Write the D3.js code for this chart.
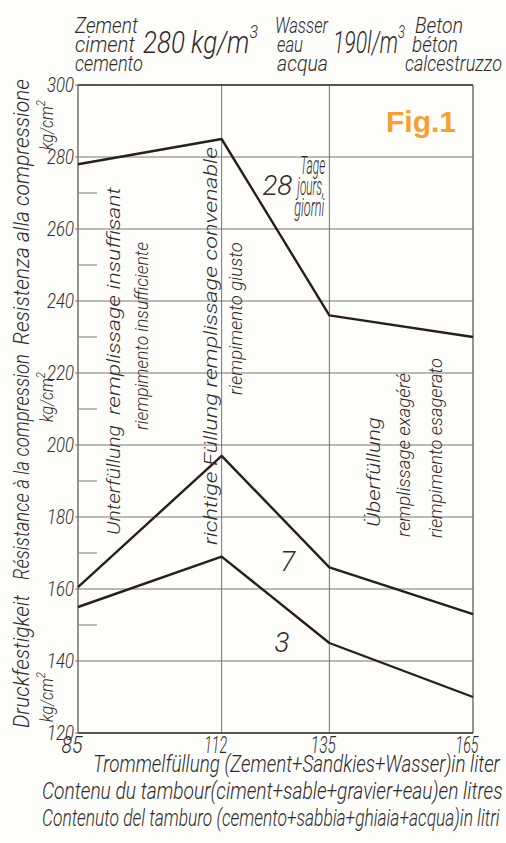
<!DOCTYPE html>
<html>
<head>
<meta charset="utf-8">
<script src="https://cdn.jsdelivr.net/npm/d3@7"></script>
<style>
  body { margin: 0; background: #fdfdfa; }
  svg text { font-family: Roboto, "DejaVu Sans", sans-serif; font-weight: 300; font-style: italic; fill: #2e2a28; }
</style>
</head>
<body>
<svg id="chart"></svg>
<script>
// drum filling in litres
const fills = [85, 112, 135, 165];
const day28 = [278, 285, 236, 230];
const day7 = [160.5, 197, 166, 153];
const day3 = [155, 169, 145, 130];
const yTicks = [120, 140, 160, 180, 200, 220, 240, 260, 280, 300];
const yMinor = [150, 170, 190, 210, 230, 250, 270];

const width = 506, height = 843;
const m = {top: 85, right: 33, bottom: 110, left: 78};
const w = width - m.left - m.right;
const h = height - m.top - m.bottom;

const svg = d3.select('#chart').attr('width', width).attr('height', height);

// squeeze a text to a given length (the lettering is very narrow)
function label(parent, x, y, txt, size, len, rot) {
    const t = parent.append('text').attr('font-size', size).text(txt);
    const nat = t.node().getComputedTextLength();
    const k = len ? len / nat : 1;
    t.attr('transform', `translate(${x},${y})${rot ? ' rotate(-90)' : ''} scale(${k},1)`);
    return t;
}

// the ticks are not evenly spaced in the original, so piecewise scale
const x = d3.scaleLinear()
    .domain(fills)
    .range([0, w * 144 / 396, w * 252 / 396, w]);
const y = d3.scaleLinear().domain([120, 300]).range([h, 0]);

const g = svg.append('g').attr('transform', `translate(${m.left},${m.top})`);

// grid
g.selectAll('.hgrid')
    .data(yTicks)
    .enter()
    .append('line')
    .attr('x1', -3).attr('x2', w)
    .attr('y1', d => y(d)).attr('y2', d => y(d))
    .attr('stroke', '#6a6662').attr('stroke-width', 0.9);

g.selectAll('.minor')
    .data(yMinor)
    .enter()
    .append('line')
    .attr('x1', 0).attr('x2', 19)
    .attr('y1', d => y(d)).attr('y2', d => y(d))
    .attr('stroke', '#6a6662').attr('stroke-width', 0.9);

g.selectAll('.vgrid')
    .data(fills)
    .enter()
    .append('line')
    .attr('x1', d => x(d)).attr('x2', d => x(d))
    .attr('y1', 0).attr('y2', h)
    .attr('stroke', '#6a6662')
    .attr('stroke-width', (d, i) => (i == 0 || i == 3) ? 1.4 : 0.9);

g.append('line').attr('x1', 0).attr('x2', w).attr('y1', h).attr('y2', h)
    .attr('stroke', '#3a3430').attr('stroke-width', 1.5);
g.append('line').attr('x1', 0).attr('x2', w).attr('y1', 0).attr('y2', 0)
    .attr('stroke', '#3a3430').attr('stroke-width', 1.3);

// tick labels
yTicks.forEach(d => {
    label(g, -4, y(d) + 7, d, 21, 27).attr('text-anchor', 'end');
});
const xLen = [21, 23, 25, 23];
fills.forEach((d, i) => {
    label(g, x(d) - 6, h + 20, d, 24, xLen[i]).attr('text-anchor', 'middle');
});

// curves
const line = d3.line()
    .x((d, i) => x(fills[i]))
    .y(d => y(d));

[day28, day7, day3].forEach(s => {
    g.append('path')
        .attr('d', line(s))
        .attr('fill', 'none')
        .attr('stroke', '#2a1e18')
        .attr('stroke-width', 2.4)
        .attr('stroke-linejoin', 'round');
});

// curve labels
label(g, x(120.7), y(269.4), '28', 28, 30);
label(g, x(124.5), y(165), '7', 28, 15);
label(g, x(123.3), y(142.5), '3', 28, 15);

const days = ['Tage', 'jours,', 'giorni'];
days.forEach((d, i) => {
    label(g, x(128.8) - i * 3, y(269.4) - 21 + i * 21, d, 25, [25, 27, 30][i]);
});

// vertical zone labels, [x, y start, text, length]
const zones = [
    [42, 450, 'Unterfüllung', 110],
    [42, 330, 'remplissage insuffisant', 228],
    [70, 345, 'riempimento insufficiente', 188],
    [139, 460, 'richtige Füllung remplissage convenable', 398],
    [164, 310, 'riempimento giusto', 153],
    [302, 442, 'Überfüllung', 110],
    [332, 452, 'remplissage exagéré', 164],
    [364, 453, 'riempimento esagerato', 180]
];
zones.forEach(z => label(g, z[0], z[1], z[2], 19, z[3], true));

// y title
const ytitle = [
    [728, 'Druckfestigkeit', 133],
    [580, 'Résistance à la compression', 226],
    [345, 'Resistenza alla compressione', 266]
];
ytitle.forEach(t => label(svg, 29, t[0], t[1], 22, t[2], true));

[722, 422, 150].forEach(p => {
    const u = svg.append('text').attr('font-size', 18);
    u.append('tspan').text('kg/cm');
    u.append('tspan').attr('dy', -8).attr('font-size', 13).text('2');
    const nat = u.node().getComputedTextLength();
    u.attr('transform', `translate(53,${p}) rotate(-90) scale(${50 / nat},1)`);
});

// x title
const xtitle = [
    [93, 772, 'Trommelfüllung (Zement+Sandkies+Wasser)in liter', 407],
    [42, 799, 'Contenu du tambour(ciment+sable+gravier+eau)en litres', 461],
    [42, 826, 'Contenuto del tamburo (cemento+sabbia+ghiaia+acqua)in litri', 458]
];
xtitle.forEach(t => label(svg, t[0], t[1], t[2], 23, t[3]));

// header: [x, text, length]
const header = [
    [[75, 'Zement', 63], [75, 'ciment', 60], [75, 'cemento', 68]],
    [[275, 'Wasser', 53], [277, 'eau', 26], [277, 'acqua', 51]],
    [[415, 'Beton', 48], [412, 'béton', 46], [405, 'calcestruzzo', 97]]
];
header.forEach(col => {
    col.forEach((c, i) => label(svg, c[0], 33 + i * 19, c[1], 22, c[2]));
});
const big = [[143, '280 kg/m', 115], [333, '190l/m', 72]];
big.forEach(b => {
    const t = svg.append('text').attr('font-size', 31);
    t.append('tspan').text(b[1]);
    t.append('tspan').attr('dy', -15).attr('font-size', 19).text('3');
    const nat = t.node().getComputedTextLength();
    t.attr('transform', `translate(${b[0]},53) scale(${b[2] / nat},1)`);
});

svg.append('text')
    .attr('x', 386).attr('y', 132)
    .attr('font-size', 30)
    .style('font-family', 'Liberation Sans, Arial, sans-serif')
    .style('font-style', 'normal')
    .style('font-weight', 'bold')
    .style('fill', '#f6a032')
    .text('Fig.1');
</script>
</body>
</html>
